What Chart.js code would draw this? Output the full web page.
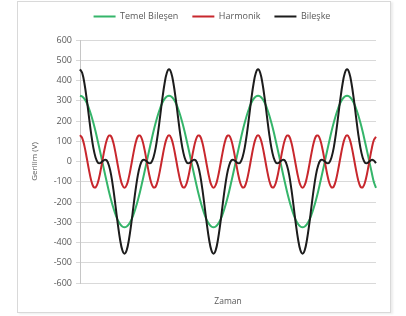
<!DOCTYPE html>
<html>
<head>
<meta charset="utf-8">
<script src="https://cdn.jsdelivr.net/npm/chart.js@4.4.0/dist/chart.umd.min.js"></script>
<style>
  html, body { margin: 0; padding: 0; background: #ffffff; }
  #wrap { position: relative; width: 406px; height: 316px; }
  #frame {
    position: absolute; left: 17px; top: 1px; width: 374px; height: 312px;
    box-sizing: border-box; border: 1px solid #d9d9d9;
    box-shadow: 2px 1px 2px rgba(0,0,0,0.08);
    pointer-events: none;
  }
</style>
</head>
<body>
<div id="wrap">
  <canvas id="chart" width="406" height="316"></canvas>
  <div id="frame"></div>
</div>
<script>
// time samples (ms), hidden on the axis
const timeLabels = [
  0, 0.5, 1, 1.5, 2, 2.5, 3, 3.5, 4, 4.5, 5, 5.5, 6, 6.5, 7, 7.5, 8, 8.5, 9, 9.5,
  10, 10.5, 11, 11.5, 12, 12.5, 13, 13.5, 14, 14.5, 15, 15.5, 16, 16.5, 17, 17.5, 18, 18.5, 19, 19.5,
  20, 20.5, 21, 21.5, 22, 22.5, 23, 23.5, 24, 24.5, 25, 25.5, 26, 26.5, 27, 27.5, 28, 28.5, 29, 29.5,
  30, 30.5, 31, 31.5, 32, 32.5, 33, 33.5, 34, 34.5, 35, 35.5, 36, 36.5, 37, 37.5, 38, 38.5, 39, 39.5,
  40, 40.5, 41, 41.5, 42, 42.5, 43, 43.5, 44, 44.5, 45, 45.5, 46, 46.5, 47, 47.5, 48, 48.5, 49, 49.5,
  50, 50.5, 51, 51.5, 52, 52.5, 53, 53.5, 54, 54.5, 55, 55.5, 56, 56.5, 57, 57.5, 58, 58.5, 59, 59.5,
  60, 60.5, 61, 61.5, 62, 62.5, 63, 63.5, 64, 64.5, 65, 65.5, 66, 66.5
];

// Temel Bileşen (V)
const temel = [
  325, 321, 309, 290, 263, 230, 191, 148, 100, 51, 0, -51, -100, -148, -191, -230, -263, -290, -309, -321,
  -325, -321, -309, -290, -263, -230, -191, -148, -100, -51, 0, 51, 100, 148, 191, 230, 263, 290, 309, 321,
  325, 321, 309, 290, 263, 230, 191, 148, 100, 51, 0, -51, -100, -148, -191, -230, -263, -290, -309, -321,
  -325, -321, -309, -290, -263, -230, -191, -148, -100, -51, 0, 51, 100, 148, 191, 230, 263, 290, 309, 321,
  325, 321, 309, 290, 263, 230, 191, 148, 100, 51, 0, -51, -100, -148, -191, -230, -263, -290, -309, -321,
  -325, -321, -309, -290, -263, -230, -191, -148, -100, -51, 0, 51, 100, 148, 191, 230, 263, 290, 309, 321,
  325, 321, 309, 290, 263, 230, 191, 148, 100, 51, 0, -51, -100, -130
];

// Harmonik (V)
const harmonik = [
  130, 116, 76, 20, -40, -92, -124, -128, -105, -59, 0, 59, 105, 128, 124, 92, 40, -20, -76, -116,
  -130, -116, -76, -20, 40, 92, 124, 128, 105, 59, 0, -59, -105, -128, -124, -92, -40, 20, 76, 116,
  130, 116, 76, 20, -40, -92, -124, -128, -105, -59, 0, 59, 105, 128, 124, 92, 40, -20, -76, -116,
  -130, -116, -76, -20, 40, 92, 124, 128, 105, 59, 0, -59, -105, -128, -124, -92, -40, 20, 76, 116,
  130, 116, 76, 20, -40, -92, -124, -128, -105, -59, 0, 59, 105, 128, 124, 92, 40, -20, -76, -116,
  -130, -116, -76, -20, 40, 92, 124, 128, 105, 59, 0, -59, -105, -128, -124, -92, -40, 20, 76, 116,
  130, 116, 76, 20, -40, -92, -124, -128, -105, -59, 0, 59, 105, 122
];

// Bileşke (V)
const bileske = [
  455, 437, 385, 310, 223, 138, 67, 20, -5, -8, 0, 8, 5, -20, -67, -138, -223, -310, -385, -437,
  -455, -437, -385, -310, -223, -138, -67, -20, 5, 8, 0, -8, -5, 20, 67, 138, 223, 310, 385, 437,
  455, 437, 385, 310, 223, 138, 67, 20, -5, -8, 0, 8, 5, -20, -67, -138, -223, -310, -385, -437,
  -455, -437, -385, -310, -223, -138, -67, -20, 5, 8, 0, -8, -5, 20, 67, 138, 223, 310, 385, 437,
  455, 437, 385, 310, 223, 138, 67, 20, -5, -8, 0, 8, 5, -20, -67, -138, -223, -310, -385, -437,
  -455, -437, -385, -310, -223, -138, -67, -20, 5, 8, 0, -8, -5, 20, 67, 138, 223, 310, 385, 437,
  455, 437, 385, 310, 223, 138, 67, 20, -5, -8, 0, 8, 5, -8
];

const seriesNames = ['Temel Bileşen', 'Harmonik', 'Bileşke'];
const yTitle = 'Gerilim (V)';
const xTitle = 'Zaman';

const textColor = '#595959';
const fontFamily = '"Open Sans", "Noto Sans", sans-serif';

function lineSet(label, data, color, order) {
  return {
    label: label,
    data: data,
    borderColor: color,
    backgroundColor: color,
    borderWidth: 2,
    pointRadius: 0,
    tension: 0.4,
    order: order
  };
}

// extra room under the legend
const legendGap = {
  id: 'legendGap',
  beforeInit(chart) {
    const fit = chart.legend.fit;
    chart.legend.fit = function () {
      fit.bind(chart.legend)();
      this.height += 9;
    };
  }
};

new Chart(document.getElementById('chart'), {
  type: 'line',
  data: {
    labels: timeLabels,
    datasets: [
      lineSet(seriesNames[0], temel, '#35b56a', 2),
      lineSet(seriesNames[1], harmonik, '#c8272d', 1),
      lineSet(seriesNames[2], bileske, '#1c1c1c', 0)
    ]
  },
  plugins: [legendGap],
  options: {
    responsive: false,
    animation: false,
    layout: { padding: { left: 48, right: 30, top: -2, bottom: 0 } },
    plugins: {
      tooltip: { enabled: false },
      legend: {
        position: 'top',
        labels: {
          boxWidth: 22,
          boxHeight: 0,
          padding: 14,
          color: textColor,
          font: { family: fontFamily, size: 9 },
          sort: (a, b) => a.datasetIndex - b.datasetIndex
        }
      }
    },
    scales: {
      x: {
        type: 'category',
        ticks: { display: false },
        grid: { display: false },
        border: { display: false },
        title: {
          display: true,
          text: xTitle,
          color: textColor,
          font: { family: fontFamily, size: 8.5 },
          padding: { top: 0, bottom: 9 }
        },
        afterFit: (scale) => { scale.height = 33; }
      },
      y: {
        min: -600,
        max: 600,
        ticks: {
          stepSize: 100,
          color: textColor,
          padding: 4,
          font: { family: fontFamily, size: 9 }
        },
        grid: { color: '#d9d9d9', lineWidth: 1, tickLength: 4 },
        border: { display: true, color: '#c6c6c6' },
        title: {
          display: true,
          text: yTitle,
          color: textColor,
          font: { family: fontFamily, size: 8 },
          padding: { top: -17.8, bottom: 0 }
        },
        afterFit: (scale) => { scale.width = 32; }
      }
    }
  }
});
</script>
</body>
</html>
